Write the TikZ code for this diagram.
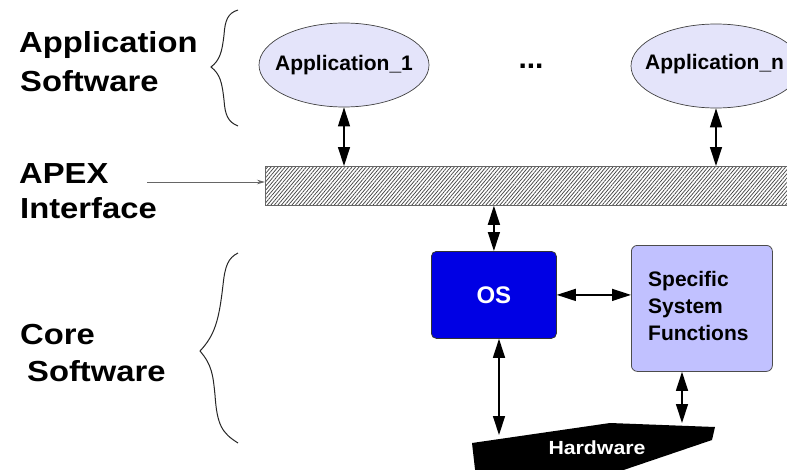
\documentclass[tikz,border=0pt]{standalone}
\usepackage{fontspec}
\setmainfont{Liberation Sans}
\usetikzlibrary{shapes.geometric,arrows.meta,patterns.meta}
\definecolor{appfill}{RGB}{228,228,250}
\definecolor{osblue}{RGB}{0,0,228}
\definecolor{sfill}{RGB}{193,193,255}
\definecolor{hatchcol}{RGB}{70,70,70}
\newcommand\biglabel[1]{\scalebox{1.13}[1]{\fontsize{29}{35}\selectfont\bfseries #1}}
\tikzset{
  lbl/.style={anchor=base west, inner sep=0pt},
  appell/.style={ellipse, draw=black!75, line width=0.7pt, fill=appfill, minimum width=170pt, minimum height=84pt, inner sep=0pt},
  apptxt/.style={inner sep=0pt, font=\fontsize{21}{25}\selectfont\bfseries},
  dblarr/.style={line width=1.3pt, {Triangle[length=19pt,width=12pt]}-{Triangle[length=19pt,width=12pt]}},
  bracepath/.style={line width=1pt, black!85},
}
\begin{document}
\begin{tikzpicture}[x=1pt,y=-1pt]
\useasboundingbox (0,0) rectangle (787,469);
\clip (0,0) rectangle (787,469);
% left labels
\node[lbl] (l1) at (19,52) {\biglabel{Application}};
\node[lbl] (l2) at (20,91) {\biglabel{Software}};
\node[lbl] (l3) at (19,183) {\biglabel{APEX}};
\node[lbl] (l4) at (20,218) {\biglabel{Interface}};
\node[lbl] (l5) at (20,344) {\biglabel{Core}};
\node[lbl] (l6) at (27,381) {\biglabel{Software}};
% braces
\draw[bracepath] (238,10) .. controls (228,13) and (225,20) .. (224,35)
  .. controls (222,52) and (220,60) .. (211,67)
  .. controls (220,74) and (222,82) .. (224,100)
  .. controls (225,115) and (228,122) .. (238,126);
\draw[bracepath] (238,253) .. controls (228,258) and (225,266) .. (223,285)
  .. controls (219,320) and (215,335) .. (200,351)
  .. controls (212,365) and (213,375) .. (215,395)
  .. controls (217,425) and (222,433) .. (238,443);
% application ellipses
\node[appell] (a1) at (344,65) {};
\node[apptxt] (a1t) at (a1) {Application\_1};
\node[appell] (an) at (716,66) {};
\node[apptxt, anchor=west] (ant) at (645,64) {Application\_n};
\node[anchor=base, inner sep=0pt, font=\fontsize{30}{30}\selectfont\bfseries] (dots) at (531,68) {...};
% APEX bar
\node[draw=black!60, line width=1.2pt, pattern={Lines[angle=50,distance=2.7pt,line width=0.75pt]}, pattern color=hatchcol, minimum width=540pt, minimum height=39pt, inner sep=0pt, anchor=north west] (bar) at (265,166) {};
\coordinate (apexstart) at (147,182);
\draw[line width=0.8pt, black!60, -{Stealth[length=8pt,width=4.5pt]}] (apexstart) -- (apexstart -| bar.west);
% arrows ellipses to bar
\draw[dblarr] (a1.south) -- (a1.south |- bar.north);
\draw[dblarr] (an.south) -- (an.south |- bar.north);
% OS and SSF
\node[draw=black!80, line width=0.8pt, fill=osblue, rounded corners=5pt, minimum width=125pt, minimum height=87pt, inner sep=0pt, anchor=north west, text=white, font=\fontsize{24}{28}\selectfont\bfseries] (os) at (431,251) {OS};
\node[draw=black!70, line width=0.8pt, fill=sfill, rounded corners=6pt, minimum width=141pt, minimum height=126pt, inner sep=0pt, anchor=north west] (sf) at (631,245) {};
\node[anchor=west, inner sep=0pt, align=left, font=\fontsize{21}{27}\selectfont\bfseries] (sftext) at (648,306) {Specific\\System\\Functions};
\draw[dblarr] (bar.south -| os.north) -- (os.north);
\draw[dblarr] (os.east) -- (os.east -| sf.west);
% hardware
\coordinate (hwL) at (499,435);
\coordinate (hwR) at (682,423);
\fill[black] (472,443) -- (610,423) -- (715,427) -- (712,440) -- (600,478) -- (476,478) -- cycle;
\node[text=white, inner sep=0pt, font=\fontsize{19}{22}\selectfont\bfseries] (hw) at (597,448) {\scalebox{1.12}[1]{Hardware}};
\draw[dblarr] (os.south -| hwL) -- (hwL);
\draw[dblarr] (sf.south -| hwR) -- (hwR);
\end{tikzpicture}
\end{document}
